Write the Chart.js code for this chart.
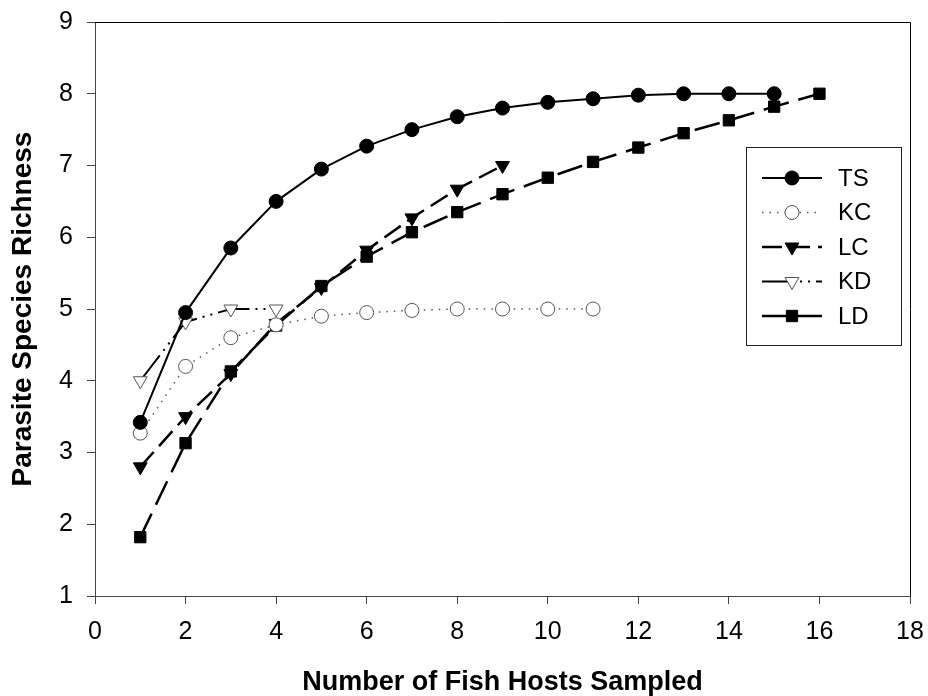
<!DOCTYPE html>
<html>
<head>
<meta charset="utf-8">
<script src="https://cdn.jsdelivr.net/npm/chart.js@4"></script>
<style>
html,body{margin:0;padding:0;background:#fff;}
#wrap{width:928px;height:696px;}
</style>
</head>
<body>
<div id="wrap"><canvas id="c" width="928" height="696"></canvas></div>
<script>
const xTicks = [0,2,4,6,8,10,12,14,16,18];
const yTicks = [1,2,3,4,5,6,7,8,9];
const seriesNames = ["TS","KC","LC","KD","LD"];
const tsX = [1,2,3,4,5,6,7,8,9,10,11,12,13,14,15];
const tsY = [3.42,4.95,5.85,6.5,6.95,7.27,7.5,7.68,7.8,7.88,7.93,7.98,8.0,8.0,8.0];
const kcX = [1,2,3,4,5,6,7,8,9,10,11];
const kcY = [3.27,4.2,4.6,4.78,4.9,4.95,4.98,5.0,5.0,5.0,5.0];
const lcX = [1,2,3,4,5,6,7,8,9];
const lcY = [2.8,3.5,4.1,4.8,5.3,5.82,6.27,6.67,7.0];
const kdX = [1,2,3,4];
const kdY = [4.0,4.82,5.0,5.0];
const ldX = [1,2,3,4,5,6,7,8,9,10,11,12,13,14,15,16];
const ldY = [1.82,3.13,4.13,4.77,5.32,5.73,6.07,6.35,6.6,6.83,7.05,7.25,7.45,7.63,7.82,8.0];

const pts = (xs, ys) => xs.map((x, i) => ({x: x, y: ys[i]}));

const frame = {
  id: 'frame',
  afterDraw(chart) {
    const {ctx, chartArea: a} = chart;
    ctx.save();
    ctx.strokeStyle = '#000';
    ctx.lineWidth = 1;
    ctx.beginPath();
    ctx.moveTo(a.left, a.top + 0.5);
    ctx.lineTo(a.right + 0.5, a.top + 0.5);
    ctx.lineTo(a.right + 0.5, a.bottom);
    ctx.stroke();
    ctx.restore();
  }
};

const legendBox = {
  id: 'legendBox',
  afterDatasetsDraw(chart) {
    const {ctx, chartArea: a} = chart;
    const bx = a.right - 164, by = a.top + 125, bw = 155, bh = 198;
    ctx.save();
    ctx.fillStyle = '#fff';
    ctx.fillRect(bx, by, bw, bh);
    ctx.strokeStyle = '#222';
    ctx.lineWidth = 1;
    ctx.strokeRect(bx + 0.5, by + 0.5, bw, bh);
    chart.data.datasets.forEach((ds, i) => {
      const y = by + 31 + i * 34.5;
      const x0 = bx + 16, x1 = bx + 76, xm = bx + 46;
      ctx.save();
      ctx.strokeStyle = ds.borderColor;
      ctx.lineWidth = ds.borderWidth;
      ctx.setLineDash(ds.borderDash || []);
      ctx.beginPath();
      ctx.moveTo(x0, y);
      ctx.lineTo(x1, y);
      ctx.stroke();
      ctx.restore();
      ctx.save();
      ctx.fillStyle = ds.pointBackgroundColor;
      ctx.strokeStyle = ds.pointBorderColor;
      ctx.lineWidth = ds.pointBorderWidth;
      Chart.helpers.drawPoint(ctx, {
        pointStyle: ds.pointStyle,
        rotation: ds.pointRotation || 0,
        radius: ds.pointRadius,
        borderWidth: ds.pointBorderWidth
      }, xm, y);
      ctx.restore();
      ctx.fillStyle = '#000';
      ctx.font = '24px "Liberation Sans", Arial, sans-serif';
      ctx.textBaseline = 'middle';
      ctx.textAlign = 'left';
      ctx.fillText(ds.label, bx + 92, y + 1);
    });
    ctx.restore();
  }
};

const datasets = [
  {label: seriesNames[0], data: pts(tsX, tsY), borderColor: '#000', borderWidth: 2,
   pointStyle: 'circle', pointRadius: 7, pointBackgroundColor: '#000', pointBorderColor: '#000', pointBorderWidth: 1},
  {label: seriesNames[1], data: pts(kcX, kcY), borderColor: '#555', borderWidth: 1.5, borderDash: [1.5, 6],
   pointStyle: 'circle', pointRadius: 7, pointBackgroundColor: '#fff', pointBorderColor: '#555', pointBorderWidth: 1},
  {label: seriesNames[2], data: pts(lcX, lcY), borderColor: '#000', borderWidth: 2.5, borderDash: [20, 8],
   pointStyle: 'triangle', pointRotation: 180, pointRadius: 8, pointBackgroundColor: '#000', pointBorderColor: '#000', pointBorderWidth: 1},
  {label: seriesNames[3], data: pts(kdX, kdY), borderColor: '#000', borderWidth: 2, borderDash: [32, 6, 2, 6, 2, 6],
   pointStyle: 'triangle', pointRotation: 180, pointRadius: 8, pointBackgroundColor: '#fff', pointBorderColor: '#555', pointBorderWidth: 1},
  {label: seriesNames[4], data: pts(ldX, ldY), borderColor: '#000', borderWidth: 2.5, borderDash: [26, 10],
   pointStyle: 'rect', pointRadius: 8, pointBackgroundColor: '#000', pointBorderColor: '#000', pointBorderWidth: 1}
];
datasets.forEach(d => { d.showLine = true; d.tension = 0; d.fill = false; d.pointHoverRadius = d.pointRadius; });

new Chart(document.getElementById('c'), {
  type: 'scatter',
  data: {datasets: datasets},
  options: {
    responsive: false,
    animation: false,
    devicePixelRatio: 1,
    layout: {padding: {left: 0, right: 18, top: 22, bottom: 0}},
    plugins: {legend: {display: false}, tooltip: {enabled: false}},
    scales: {
      x: {
        type: 'linear', min: 0, max: 18,
        afterBuildTicks: s => { s.ticks = xTicks.map(v => ({value: v})); },
        afterFit: s => { s.height = 100; s.paddingLeft = 0; s.paddingRight = 0; },
        ticks: {color: '#000', padding: 13, maxRotation: 0, autoSkip: false,
          font: {family: '"Liberation Sans", Arial, sans-serif', size: 25}},
        grid: {drawOnChartArea: false, drawTicks: true, tickLength: 8, color: '#444'},
        border: {color: '#444', width: 1},
        title: {display: true, text: 'Number of Fish Hosts Sampled', color: '#000',
          font: {family: '"Liberation Sans", Arial, sans-serif', size: 27, weight: 'bold', lineHeight: 1},
          padding: {top: 0, bottom: 0}}
      },
      y: {
        type: 'linear', min: 1, max: 9,
        afterBuildTicks: s => { s.ticks = yTicks.map(v => ({value: v})); },
        afterFit: s => { s.width = 95; s.paddingTop = 0; s.paddingBottom = 0; },
        ticks: {color: '#000', padding: 14, autoSkip: false,
          font: {family: '"Liberation Sans", Arial, sans-serif', size: 25}},
        grid: {drawOnChartArea: false, drawTicks: true, tickLength: 8, color: '#444'},
        border: {color: '#444', width: 1},
        title: {display: true, text: 'Parasite Species Richness', color: '#000',
          font: {family: '"Liberation Sans", Arial, sans-serif', size: 28, weight: 'bold'},
          padding: {top: 6, bottom: 0}}
      }
    }
  },
  plugins: [frame, legendBox]
});
</script>
</body>
</html>
